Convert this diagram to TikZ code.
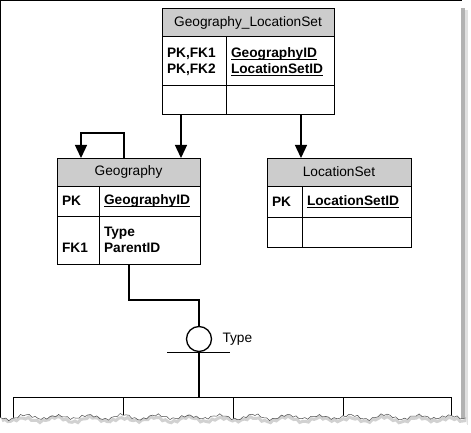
\documentclass[tikz,border=0pt]{standalone}
\usepackage{fontspec}
\setmainfont{Liberation Sans}
\usetikzlibrary{arrows.meta}
\newsavebox\keybox
\newcommand{\pkfield}[1]{\leavevmode\sbox\keybox{#1}\rlap{\rule[-2.5pt]{\wd\keybox}{0.8pt}}\usebox\keybox}
\begin{document}
\begin{tikzpicture}[x=1pt,y=-1pt,line width=1pt,
    tblhead/.style={draw,fill=black!20,anchor=north west,outer sep=0pt,inner sep=0pt,minimum height=28,font=\fontsize{13.7}{16}\selectfont},
    tblcell/.style={draw,anchor=north west,outer sep=0pt,inner xsep=5pt,inner ysep=0pt,align=left,text width=#1,font=\fontsize{13.7}{16}\selectfont\bfseries},
    link/.style={line width=1.3pt,-{Triangle[length=13pt,width=12pt]}},
    conn/.style={line width=1.3pt},
    declare function={tear(\t)=417+2*sin(11*\t)+1.2*sin(47*mod(\t,360/47)+20)+0.6*sin(131*mod(\t,360/131));}]
                \useasboundingbox (0,0) rectangle (471,433);
                \fill[black!30] (461,8) rectangle (465,425);
                \fill[black!12] (465,10) rectangle (467.5,425);
                \draw[line width=1.2pt] (0.6,425) -- (0.6,0.6) -- (462,0.6);

                \node[tblhead,minimum width=172] (gl) at (162,9) {Geography\_LocationSet};
                \node[tblcell=54pt,minimum height=49] (glk1) at (162,37) {PK,FK1\\PK,FK2};
                \node[tblcell=98pt,minimum height=49] (glf1) at (226,37) {\pkfield{GeographyID}\\\pkfield{LocationSetID}};
                \node[tblcell=54pt,minimum height=29] (glk2) at (162,86) {};
                \node[tblcell=98pt,minimum height=29] (glf2) at (226,86) {};

                \node[tblhead,minimum width=143] (geo) at (57,158) {Geography};
                \node[tblcell=32pt,minimum height=30] (geok1) at (57,186) {PK};
                \node[tblcell=91pt,minimum height=30] (geof1) at (99,186) {\pkfield{GeographyID}};
                \node[tblcell=32pt,minimum height=48] (geok2) at (57,216) {\vphantom{Ty}\\FK1};
                \node[tblcell=91pt,minimum height=48] (geof2) at (99,216) {Type\\ParentID};

                \node[tblhead,minimum width=144] (ls) at (267,158) {LocationSet};
                \node[tblcell=25pt,minimum height=31] (lsk1) at (267,186) {PK};
                \node[tblcell=99pt,minimum height=31] (lsf1) at (302,186) {\pkfield{LocationSetID}};
                \node[tblcell=25pt,minimum height=30] (lsk2) at (267,217) {};
                \node[tblcell=99pt,minimum height=30] (lsf2) at (302,217) {};

                \node[circle,draw,line width=1.3pt,minimum size=25,inner sep=0pt] (disc) at (199,339) {};
                \node[anchor=west,inner sep=0pt,font=\fontsize{13.7}{16}\selectfont] (disctype) at (222,339) {Type};
                \coordinate (glleft) at ([xshift=-13]glk2.south);
                \coordinate (glright) at ([xshift=21]glf2.south);
                \coordinate (split) at (199,397);

                \draw[link] (glleft) -- (glleft |- geo.north);
                \draw[link] (glright) -- (glright |- ls.north);
                \draw[link] ([xshift=-4.5]geo.north) -- ++(0,-25) -| ([xshift=-47.5]geo.north);
                \draw[conn] ([xshift=-20.5]geof2.south) -- ++(0,36) -| (disc.north);
                \draw[conn] ([xshift=-32]disc.south) -- ([xshift=31]disc.south);
                \draw[conn] (disc.south) -- (split);
                \foreach \sa/\sb in {13/123,123/233,233/343,343/451}
                    \draw (\sa,428) |- (\sb,397) -- (\sb,428);

                \fill[white] (-2,433.5) -- plot[domain=0:466,samples=160] (\x,{tear(\x)}) -- (468,433.5) -- cycle;
                \draw[black!18,line width=3pt,yshift=-2.5pt] plot[domain=2:466,samples=160] (\x,{tear(\x)});
                \draw[black!70,line width=0.5pt] plot[domain=0:466,samples=160] (\x,{tear(\x)});
            \end{tikzpicture}
\end{document}
